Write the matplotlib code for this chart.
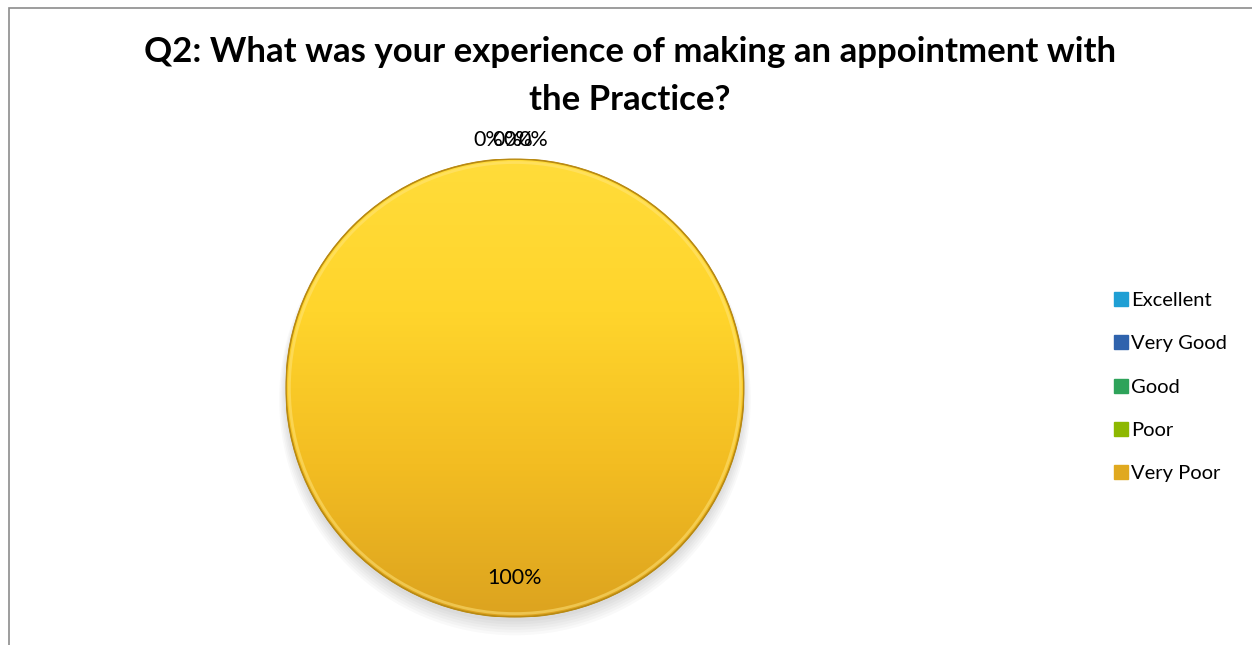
import numpy as np
import matplotlib.pyplot as plt
from matplotlib.patches import Rectangle, Circle
from matplotlib.colors import LinearSegmentedColormap

plt.rcParams['font.family'] = ['Lato', 'DejaVu Sans']

# data
categories = ["Excellent", "Very Good", "Good", "Poor", "Very Poor"]
values = [0, 0, 0, 0, 100]
colors = ["#1f9fd4", "#2f63ad", "#2ea35a", "#8db800", "#e0a91f"]

fig = plt.figure(figsize=(12.52, 6.45), dpi=100)

# chart frame
fig.patches.append(Rectangle((9 / 1252, -0.1), 1.2, 1.1 - 8 / 645,
                             transform=fig.transFigure, fill=False,
                             edgecolor="#8c8c8c", linewidth=1.2))

fig.text(0.503, 0.92, "Q2: What was your experience of making an appointment with",
         ha="center", va="center", fontsize=25, fontweight="bold")
fig.text(0.503, 0.845, "the Practice?", ha="center", va="center",
         fontsize=25, fontweight="bold")

ax = fig.add_axes([0.2284, 0.0434, 0.3658, 0.710])

# soft shadow
for k in range(6):
    ax.add_patch(Circle((0.0, -0.02 - 0.006 * k), 1.0 + 0.006 * k,
                        color="#000000", alpha=0.025, zorder=0, lw=0,
                        clip_on=False))

wedges, _ = ax.pie(values, colors=colors, startangle=90, counterclock=False,
                   radius=1.0, wedgeprops=dict(linewidth=0.8, edgecolor="#b8860b"))

# gradient fill for the slices
for w, c in zip(wedges, colors):
    if w.theta2 - w.theta1 <= 0:
        continue
    if c == "#e0a91f":
        cmap = LinearSegmentedColormap.from_list("g", ["#dca31f", "#f3bd22", "#ffd52c", "#ffdc3a"])
    else:
        cmap = LinearSegmentedColormap.from_list("g", [c, c])
    grad = np.linspace(0, 1, 256).reshape(-1, 1)
    im = ax.imshow(grad, cmap=cmap, extent=[-1, 1, -1, 1], origin="lower",
                   aspect="auto", zorder=1.5)
    im.set_clip_path(w)
ax.set_xlim(-1, 1)
ax.set_ylim(-1, 1)
ax.set_aspect("equal")
ax.axis("off")

# rim highlight
ax.add_patch(Circle((0, 0), 0.985, fill=False, edgecolor="#ffe680",
                    linewidth=2, alpha=0.5, zorder=2))
ax.add_patch(Circle((0, 0), 1.0, fill=False, edgecolor="#b98a12",
                    linewidth=1.2, zorder=2.1))

# percentage labels
total = sum(values)
zero_offsets = [-0.18, -0.1, -0.05, 0.015]
zi = 0
for w, v in zip(wedges, values):
    pct = "%d%%" % round(100 * v / total)
    if v == 0:
        ax.text(zero_offsets[zi], 1.083, pct, ha="left", va="center", fontsize=15.5,
                zorder=3, clip_on=False)
        zi += 1
    else:
        ax.text(0, -0.83, pct, ha="center", va="center", fontsize=15.5, zorder=3)

# legend
handles = [plt.Line2D([], [], marker="s", linestyle="none", markersize=10,
                      markerfacecolor=c, markeredgecolor=c) for c in colors]
fig.legend(handles, categories, loc="center left", bbox_to_anchor=(0.873, 0.4),
           frameon=False, fontsize=14.5, handletextpad=0.0, labelspacing=1.3,
           handlelength=1.0)

fig.savefig("out.png", dpi=100)
